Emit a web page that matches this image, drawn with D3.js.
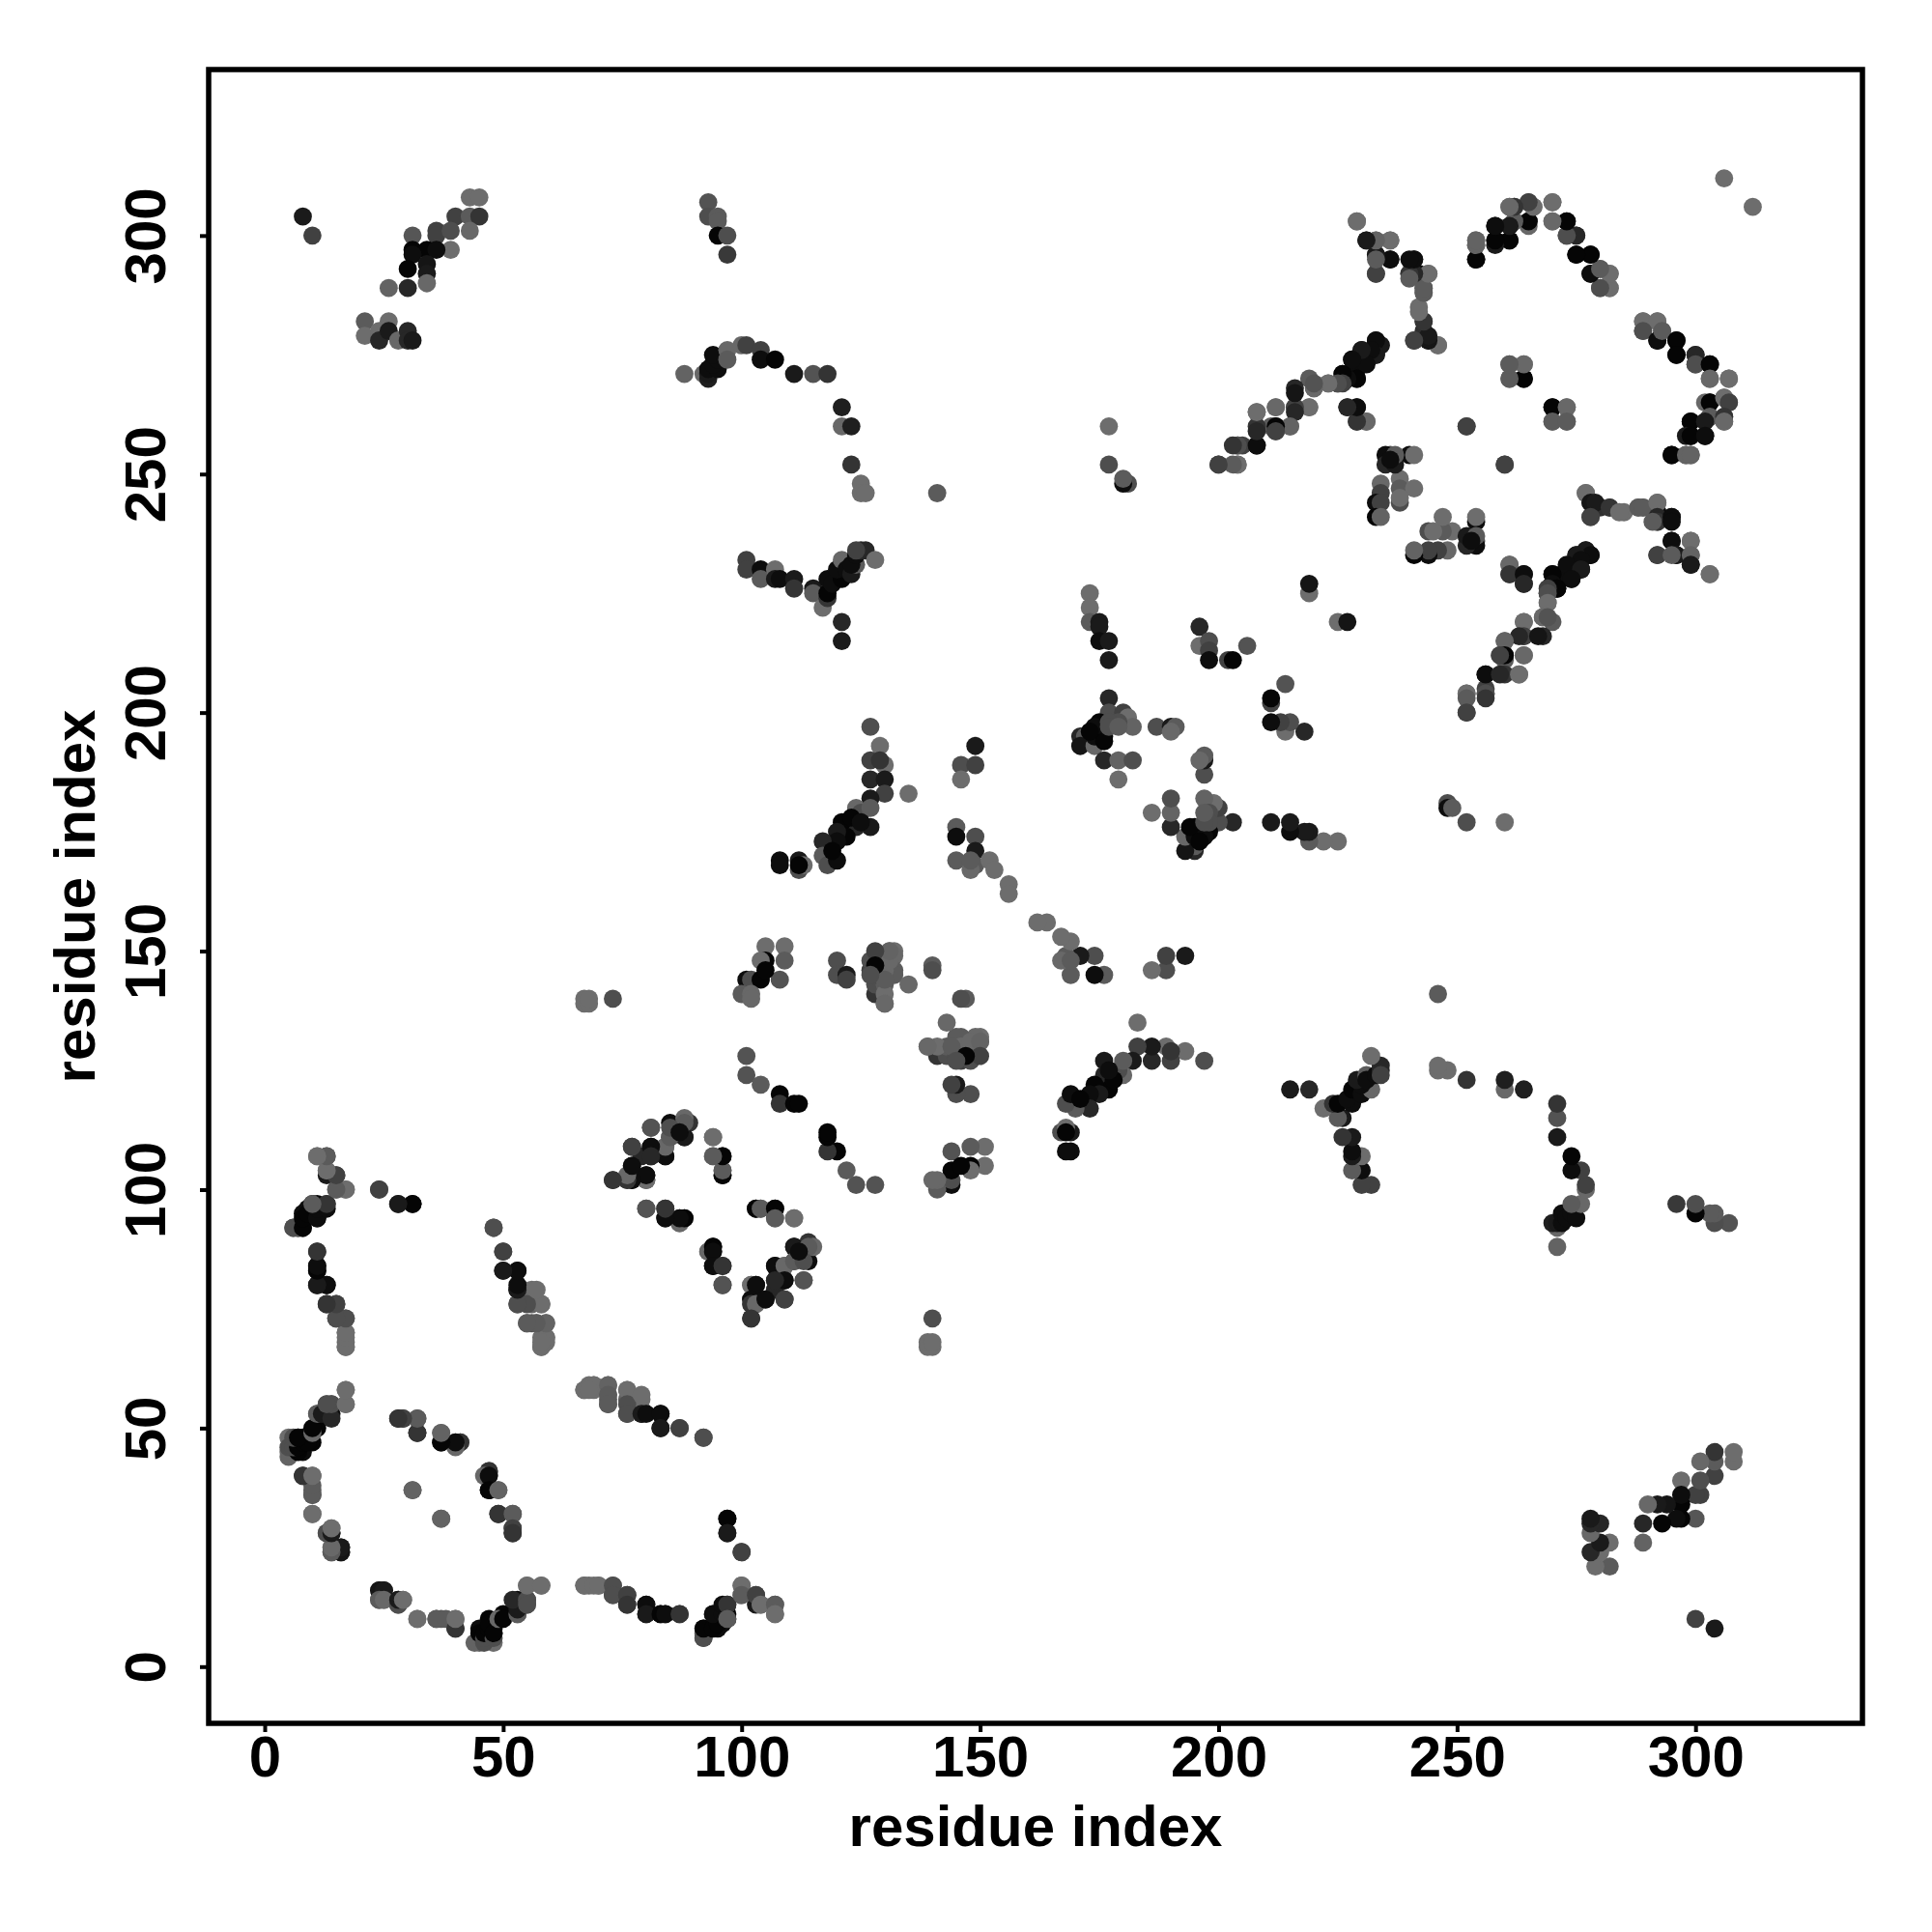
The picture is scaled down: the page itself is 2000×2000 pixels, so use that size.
<!DOCTYPE html>
<html><head><meta charset="utf-8">
<script src="https://cdn.jsdelivr.net/npm/d3@7"></script>
<style>html,body{margin:0;background:#fff}svg{display:block}</style></head>
<body><div id="chart"></div>
<script>
// contacts as [residue i, residue j, shade level 0 (black) .. 45 (lightest)]
const nTermContacts = [
[11,107,42],[13,107,30],[13,103,10],[13,104,42],[15,103,25],[15,100,40],[17,100,42],[24,100,22],[28,97,10],[31,97,5],
[6,92,35],[7,92,10],[8,92,10],[8,95,5],[9,96,5],[10,96,40],[11,94,5],[10,97,2],[11,97,2],[13,97,15],
[11,87,18],[11,84,2],[11,83,5],[11,80,10],[13,80,5],[13,76,15],[15,76,15],[15,73,20],[17,73,30],[17,70,42],[17,68,40],[17,67,38],
[48,92,30],[50,87,25],[50,83,5],[53,83,10],[53,79,5],[53,76,25],[54,79,40],[56,79,42],[56,76,38],[58,76,42],[55,72,33],[56,72,30],[57,72,40],[59,72,42],[58,69,42],[59,69,42],[59,68,42],[58,67,42],
[17,58,42],[17,55,42],[13,55,30],[14,55,25],[14,53,5],[11,53,25],[11,50,2],[10,49,10],[10,47,2],[8,48,2],[7,48,5],[7,47,2],[5,48,42],[5,45,40],[6,45,30],[8,45,5],[7,46,2],
[8,40,20],[10,40,42],[10,37,35],[10,36,33],[10,32,42],[13,28,30],[14,28,5],[14,29,42],[14,25,42],[14,24,30],[16,25,5],[16,24,10],
[24,16,8],[25,16,10],[24,14,35],[25,14,40],[28,13,30],[28,14,10],[29,14,42],[32,10,42],[36,10,35],[38,10,35],[40,8,20],[40,10,42],
[44,5,38],[46,5,30],[45,7,2],[46,6,30],[46,7,2],[47,8,2],[47,9,2],[48,6,30],[48,7,2],[49,10,40],[50,10,2],[53,11,35],[53,12,10],[52,14,15],[55,14,30],[55,17,42],[58,17,42],[55,13,30],
[67,17,42],[69,17,42],[70,17,42],[73,17,30],[73,15,30],[76,15,25],[76,13,20],[80,13,5],[80,11,10],[83,11,2],[84,11,5],[87,11,20],
[92,7,35],[92,6,30],[92,8,2],[94,8,2],[95,9,2],[94,11,5],[96,11,5],[96,13,5],[97,13,20],[97,10,35],[100,17,42],[100,15,35],[103,15,25],[104,13,42],[107,13,35],[107,11,42],
[97,31,2],[97,28,10],[100,24,25],
[28,52,10],[29,52,20],[32,52,30],[32,49,10],[37,49,42],[37,47,2],[40,47,35],[41,47,20],[31,37,35],[37,31,38],
[47,41,20],[46,40,40],[47,40,5],[47,37,2],[49,37,38],[49,32,20],[52,32,35],[52,29,25],[52,28,20],
[67,58,42],[69,59,42],[68,58,42],[72,59,38],[72,57,35],[72,55,35],[76,58,42],[76,55,30],[76,53,30],[79,57,42],[79,53,10],[80,53,5],[83,53,5],[83,50,10],[87,50,25],[92,48,30]
];
const midContacts = [
[73,102,20],[76,102,40],[77,105,2],[77,102,15],[80,103,2],[80,102,35],[77,109,20],[81,109,2],[81,107,10],[79,107,15],[81,113,30],[84,107,5],[84,109,35],[85,114,5],[85,111,20],[88,111,5],[89,114,20],[88,115,40],
[94,111,42],[94,107,40],[96,107,2],[96,104,38],[96,103,10],
[80,96,30],[84,96,20],[84,94,5],[87,93,35],[87,94,5],[88,94,5],
[103,96,2],[104,96,35],[107,96,2],[107,94,35],[111,94,42],
[93,87,40],[94,88,2],[94,87,5],[94,84,5],[96,84,20],[96,80,32],
[102,80,42],[103,80,5],[107,84,5],[109,84,40],[111,88,10],[111,85,35],[109,81,5],[107,81,15],[113,81,32],[114,88,35],[113,85,30],[112,87,5],
[102,77,5],[102,76,20],[103,76,40],[105,77,5],[109,77,25],[102,73,20],
[67,140,42],[67,139,42],[68,139,42],[68,140,42],[73,140,30],
[101,128,32],[101,124,32],[104,122,35],[108,120,2],[108,118,20],[111,118,2],[112,118,2],
[105,151,42],[109,151,42],[105,148,2],[109,148,35],[104,148,42],[101,144,5],[102,144,30],[104,144,2],[108,144,32],[100,141,35],[102,141,40],[102,140,40],[105,146,2],
[120,148,30],[120,145,30],[122,145,10],[122,144,25],
[129,149,20],[128,146,35],[129,146,5],[129,144,15],[128,145,30],[128,141,20],[128,143,30],[130,143,35],[130,141,42],[130,139,42],[130,147,35],[132,150,42],[131,150,42],[132,149,40],[132,146,35],[132,145,35],[135,143,40],
[140,147,35],[140,146,30],
[146,130,40],[145,128,30],[144,130,35],[146,127,25],[148,127,30],[148,131,40],[150,131,38],[150,128,25],[147,128,2],[145,127,30],[139,130,40],
[127,197,30],[129,193,42],[127,190,25],[130,189,42],[127,186,15],[130,186,10],[130,183,25],[135,183,42],[127,182,10],[124,180,40],[125,179,30],[127,180,35],[127,176,10],[124,176,15],[121,177,2],[122,174,2],[120,175,10],[120,173,5],[117,173,15],[117,170,35],[118,168,30],[120,169,5],
[108,169,5],[108,168,5],[112,169,10],[112,167,30],[113,168,42],[112,168,2],[129,190,20],[119,171,2],[123,178,2],[125,177,5],
[149,193,10],[146,189,30],[149,189,25],[146,186,42],[145,176,35],[145,174,5],[149,174,30],[149,171,10],[145,169,35],[149,168,35],[148,167,40],[148,169,35],[152,169,42],[153,167,42],[156,164,42],[156,162,42]
];
const centralContacts = [
[173,225,42],[173,222,42],[173,219,35],[175,219,10],[175,218,10],[175,215,5],[177,215,10],[177,211,10],
[196,218,15],[196,214,42],[198,215,30],[198,213,25],[198,211,5],[202,211,25],[203,211,2],[206,214,32],[219,225,42],[219,227,8],
[177,203,15],[177,200,30],[175,198,2],[180,200,25],[181,199,42],[182,197,38],[171,195,15],[172,195,35],[171,193,8],[174,193,40],[174,197,5],[175,195,5],[176,195,2],[179,198,30],[177,198,30],[174,195,5],[176,194,2],[177,197,30],[173,196,2],[179,197,35],
[176,190,15],[179,190,38],[182,190,30],[179,186,42],[187,197,30],[190,197,10],[191,197,35],[190,196,40],
[181,248,30],[180,248,5],[180,249,35],[177,252,30],[177,260,42]
];
const upperContacts = [
[8,304,10],[10,300,25],[31,300,33],[36,301,25],[36,300,25],[40,304,25],[39,301,30],[43,304,35],[45,304,20],[43,308,42],[45,308,42],[43,301,40],[39,297,42],[31,297,2],[34,297,2],[36,297,5],[31,296,5],[30,293,2],[34,294,8],[34,292,10],[30,289,15],[26,289,38],[34,290,40],
[21,282,35],[26,282,42],[21,279,42],[24,280,42],[24,278,15],[26,280,10],[28,278,40],[30,280,15],[30,278,15],[31,278,10],
[93,307,32],[93,304,30],[95,304,35],[95,303,35],[95,300,2],[97,300,30],[97,296,22],
[88,271,38],[92,271,40],[93,270,12],[93,271,10],[93,272,5],[95,272,5],[94,273,5],[95,274,5],[94,275,5],[97,276,40],[97,274,35],[100,277,40],[101,277,25],[104,276,25],[104,274,5],[107,274,2],[111,271,10],[115,271,32],[118,271,20],
[121,264,12],[121,260,40],[123,260,12],[123,252,20],[125,248,42],[125,246,42],[126,246,42],[141,246,35],
[101,232,25],[101,230,25],[104,230,5],[104,228,35],[107,230,42],[107,228,10],[108,228,5],[111,228,10],[111,226,20],[115,226,10],[115,225,35],[117,222,42],[118,224,20],[118,225,2],[118,228,5],[119,227,5],[121,228,2],[120,230,5],[121,232,40],[122,230,5],[123,229,10],[124,231,35],[123,231,5],[124,233,5],[125,234,15],[126,234,15],[124,234,25],[128,232,42],[121,219,15],[121,215,10],
[229,303,38],[231,299,10],[233,299,38],[236,299,38],[233,296,5],[236,295,8],[233,292,25],[241,295,8],[240,292,30],[242,292,5],[244,292,38],[243,289,35],[243,288,35],[242,285,42],[243,282,20],[243,280,18],[241,278,25],[244,278,15],[246,277,40],
[254,299,35],[254,298,35],[254,295,2],[258,302,2],[258,299,10],[261,299,5],[262,306,30],[261,306,40],[262,303,35],[265,307,30],[266,306,40],[265,303,2],[270,307,42],[270,303,40],[273,303,2],[273,300,25],[275,300,15],[275,296,2],[278,296,2],[278,292,5],[280,293,35],[282,292,42],[280,289,35],[282,289,38],
[289,282,42],[292,282,42],[289,280,30],[292,278,5],[293,280,35],[296,278,2],[296,275,2],[300,275,15],[300,273,30],[303,273,2],[303,270,40],[307,270,42],
[302,265,40],[303,265,2],[306,266,42],[307,265,25],[303,262,35],[306,262,20],[306,261,40],[299,261,2],[302,261,10],[298,258,10],[299,258,2],[302,258,5],[295,254,2],[298,254,38],[299,254,38],
[261,273,35],[264,273,42],[261,270,38],[264,270,2],[270,264,2],[273,264,40],[270,261,35],[273,261,35],[252,260,25],[260,252,25],[306,312,42],
[233,278,5],[234,277,15],[230,276,5],[233,275,10],[228,274,5],[231,274,5],[229,272,5],[226,271,2],[229,270,5],[227,270,5],[225,269,10],[223,269,42],[219,270,35],[220,268,30],[216,268,15],[216,264,25],[219,264,42],[212,264,42],[212,260,5],[215,260,40],[211,260,35],[208,263,42],[208,260,20],[208,256,2],[212,259,25],[200,252,20],[204,252,38],[204,256,25],[205,256,25],
[227,264,15],[229,264,5],[229,261,20],[231,261,35],
[236,254,30],[235,254,5],[235,252,15],[240,254,5],[241,254,42],[234,248,40],[234,246,25],[233,244,5],[234,244,25],[233,241,2],[234,241,38],[238,249,42],[238,247,35],[238,244,30],[241,247,42],[238,245,42],
[237,252,10],[237,254,35],[236,253,5],
[277,246,42],[278,244,8],[279,244,10],[278,241,25],[282,243,20],[284,242,42],[288,243,35],[289,243,35],[292,244,42],[292,241,15],[292,240,20],[291,240,35],[295,241,5],[295,240,5],
[295,236,5],[299,236,42],[292,233,25],[296,233,10],[295,233,35],[299,233,38],[299,231,10],[303,229,42],
[277,234,10],[278,233,5],[275,233,10],[276,232,5],[273,231,5],[276,230,10],[270,229,2],[274,228,5],[270,227,5],[271,226,2],[269,226,25],[269,225,30],[269,223,42],[268,220,40],[269,220,32],
[264,219,42],[264,216,25],[267,216,8],[263,216,15],[260,215,38],[264,212,40],[260,212,2],[259,212,25],[256,208,5],[259,208,15],[263,208,42],[252,204,42],[256,204,30],[256,203,20],[252,203,35],[252,200,25],
[261,231,40],[261,229,20],[264,229,5],[264,227,15]
];

const xTickValues = [0, 50, 100, 150, 200, 250, 300];
const yTickValues = [0, 50, 100, 150, 200, 250, 300];
const xLabel = "residue index";
const yLabel = "residue index";

const W = 2000, H = 2000;
const frame = {l:216, r:1928, t:72, b:1784};
const x = d3.scaleLinear().domain([-11.75, 335.0]).range([frame.l, frame.r]);
const y = d3.scaleLinear().domain([-11.89, 334.8]).range([frame.b, frame.t]);
const gray = d3.scaleLinear().domain([0,45]).range(["#000000","#757575"]);

const svg = d3.select("#chart").append("svg").attr("width",W).attr("height",H);
const font = "'Liberation Sans', Arial, sans-serif";

const contacts = [...nTermContacts, ...midContacts, ...centralContacts, ...upperContacts];
const pts = contacts.flatMap(c => [{a:c[0],b:c[1],s:c[2]},{a:c[1],b:c[0],s:c[2]}]);
svg.append("g").selectAll("circle").data(pts).join("circle")
  .attr("cx",d=>x(d.a)).attr("cy",d=>y(d.b)).attr("r",9.4).attr("fill",d=>gray(d.s));

const xa = svg.append("g").attr("transform",`translate(0,${frame.b})`)
  .call(d3.axisBottom(x).tickValues(xTickValues).tickSize(9).tickFormat(d3.format("d")));
const ya = svg.append("g").attr("transform",`translate(${frame.l},0)`)
  .call(d3.axisLeft(y).tickValues(yTickValues).tickSize(9).tickFormat(d3.format("d")));
[xa,ya].forEach(g=>{
  g.select(".domain").remove();
  g.selectAll("line").attr("stroke","#000").attr("stroke-width",4);
  g.selectAll("text").attr("fill","#000").style("font-family",font).style("font-weight","bold").style("font-size","60px");
});
xa.selectAll("text").attr("dy",null).attr("y",55);
ya.selectAll("text").attr("x",0).attr("y",0).attr("dy",null).attr("text-anchor","middle")
  .attr("transform","translate(-45,0) rotate(-90)");

svg.append("rect").attr("x",frame.l).attr("y",frame.t).attr("width",frame.r-frame.l).attr("height",frame.b-frame.t)
  .attr("fill","none").attr("stroke","#000").attr("stroke-width",5.5);

svg.append("text").attr("x",(frame.l+frame.r)/2).attr("y",1911).attr("text-anchor","middle")
  .style("font-family",font).style("font-weight","bold").style("font-size","60px").text(xLabel);
svg.append("text").attr("transform",`translate(98,${(frame.t+frame.b)/2}) rotate(-90)`).attr("text-anchor","middle")
  .style("font-family",font).style("font-weight","bold").style("font-size","60px").text(yLabel);
</script></body></html>
